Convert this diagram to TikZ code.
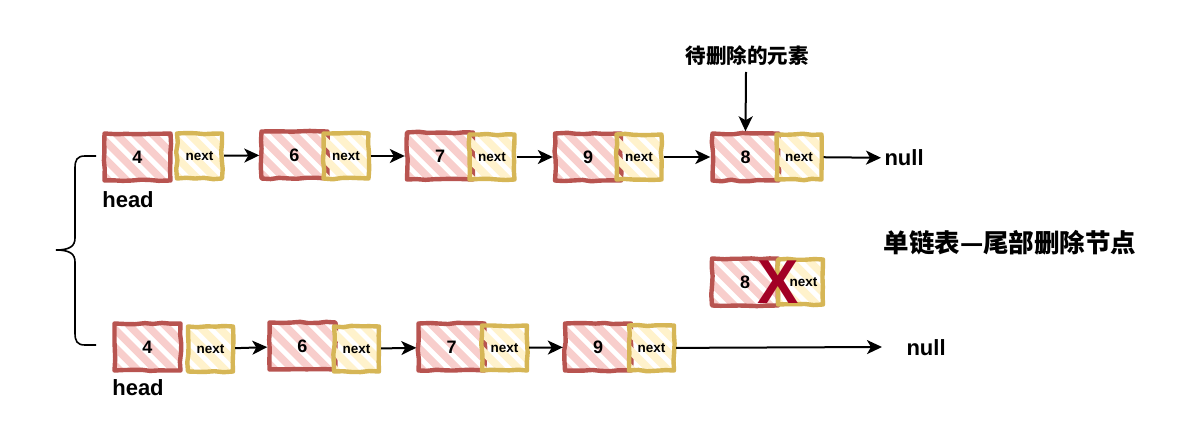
\documentclass[tikz,border=0pt]{standalone}
\usepackage{fontspec}
\setmainfont{Liberation Sans}
\newfontfamily\cjk{Noto Sans CJK SC}
\usetikzlibrary{arrows.meta,decorations.pathmorphing}
\definecolor{redc}{HTML}{B85450}
\definecolor{pinkc}{HTML}{F8CECC}
\definecolor{yelc}{HTML}{D6B656}
\definecolor{yelfill}{HTML}{FFF2CC}
\definecolor{xred}{HTML}{A20025}
\pgfmathsetseed{7}
\tikzset{
  sketch/.style={decorate, decoration={random steps, segment length=9pt, amplitude=0.8pt}, line join=round, line cap=round},
  stripes/.style={path picture={\foreach \k in {-78,-60,...,90}
      \draw[line width=7.5pt,#1] ([xshift=\k pt]path picture bounding box.north west) -- ++(80,80);}},
  redbox/.style={rectangle, draw=redc, line width=4.4pt, sketch, stripes=pinkc,
      minimum width=66pt, minimum height=47pt, inner sep=0pt, font=\bfseries\fontsize{18}{18}\selectfont},
  yelbox/.style={rectangle, draw=yelc, line width=4.4pt, sketch, stripes=yelfill,
      minimum width=45pt, minimum height=45pt, inner sep=0pt, font=\bfseries\fontsize{13.5}{14}\selectfont},
  arr/.style={line width=2pt, -{Stealth[length=15pt,width=14pt,inset=4pt]}},
  big/.style={font=\bfseries\fontsize{22}{24}\selectfont},
}
\begin{document}
\begin{tikzpicture}[x=1pt,y=-1pt]
\useasboundingbox[fill=white] (0,0) rectangle (1204,446);
% top row
\node[redbox] (r1) at (137.5,157) {4};
\node[yelbox] (n1) at (199.5,156) {next};
\node[redbox] (r2) at (294.5,155) {6};
\node[yelbox] (n2) at (346,156) {next};
\node[redbox] (r3) at (440,156) {7};
\node[yelbox] (n3) at (492,157) {next};
\node[redbox] (r4) at (588,157) {9};
\node[yelbox] (n4) at (639,157) {next};
\node[redbox] (r5) at (745.5,157) {8};
\node[yelbox] (n5) at (799,157) {next};
\node[big, anchor=west] (null1) at (881,158) {null};
\node[big] (h1) at (128,200) {head};
\draw[arr] (n1) -- (r2);
\draw[arr] (n2) -- (r3);
\draw[arr] (n3) -- (r4);
\draw[arr] (n4) -- (r5);
\draw[arr] (n5) -- (null1);
\node[font=\cjk\bfseries\fontsize{20.5}{22}\selectfont] (lbl) at (747,56) {待删除的元素};
\draw[arr] (746,72) -- (r5.north);
% title
\node[font=\cjk\bfseries\fontsize{25.5}{27}\selectfont] (title) at (1010,243) {单链表—尾部删除节点};
% deleted node
\node[redbox] (d1) at (745,282) {8};
\node[yelbox] (d2) at (800.5,282) {\hspace*{6pt}next};
\node[text=xred, font=\bfseries\fontsize{62}{62}\selectfont] (x) at (778,282) {X};
% bottom row
\node[redbox] (b1) at (147.5,347) {4};
\node[yelbox] (m1) at (210.5,349) {next};
\node[redbox] (b2) at (302.5,346) {6};
\node[yelbox] (m2) at (356.5,349) {next};
\node[redbox] (b3) at (451.5,347) {7};
\node[yelbox] (m3) at (504.5,348) {next};
\node[redbox] (b4) at (598,347) {9};
\node[yelbox] (m4) at (651.5,348) {next};
\coordinate (e4) at (882,347);
\node[big, anchor=west] (null2) at (903,348) {null};
\node[big] (h2) at (138,388) {head};
\draw[arr] (m1) -- (b2);
\draw[arr] (m2) -- (b3);
\draw[arr] (m3) -- (b4);
\draw[arr] (m4) -- (e4);
% brace
\coordinate (bt) at (96,156);
\coordinate (bb) at (96,345);
\coordinate (tip) at (56,250);
\draw[line width=1.6pt] (bt) -- (85,156) .. controls (77,156) and (75,160) .. (75,168) -- (75,238)
  .. controls (75,246) and (70,250) .. (tip)
  .. controls (70,250) and (75,254) .. (75,262) -- (75,333)
  .. controls (75,341) and (77,345) .. (85,345) -- (bb);
\end{tikzpicture}
\end{document}
